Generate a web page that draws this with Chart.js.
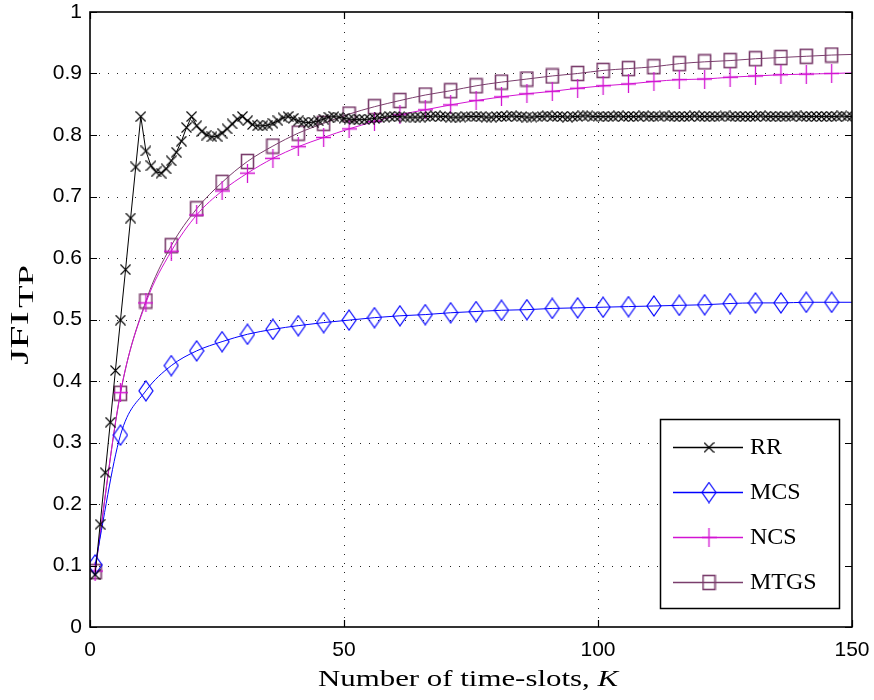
<!DOCTYPE html>
<html><head><meta charset="utf-8">
<script src="https://cdn.jsdelivr.net/npm/chart.js@4.4.0/dist/chart.umd.min.js"></script>
<style>html,body{margin:0;padding:0;background:#fff;}canvas{display:block;}</style>
</head><body>
<canvas id="c" width="874" height="700"></canvas>
<script>
// ---------------- data ----------------
const seriesNames = ['RR', 'MCS', 'NCS', 'MTGS'];
const rrK = Array.from({length: 150}, (_, i) => i + 1);   // time-slot categories 1..150
const rrValues = [
  0.085,0.167,0.251,0.333,0.417,0.499,0.581,0.665,0.748,0.830,
  0.774,0.750,0.740,0.738,0.745,0.758,0.772,0.790,0.812,0.830,
  0.815,0.806,0.800,0.797,0.798,0.803,0.810,0.818,0.826,0.830,
  0.823,0.817,0.815,0.815,0.816,0.819,0.823,0.828,0.830,0.827,
  0.823,0.821,0.820,0.821,0.823,0.826,0.829,0.830,0.829,0.827,
  0.826,0.825,0.825,0.825,0.826,0.827,0.828,0.829,0.830,0.830,
  0.830,0.829,0.829,0.829,0.829,0.830,0.830,0.831,0.830,0.830,
  0.829,0.829,0.829,0.830,0.830,0.830,0.830,0.829,0.829,0.830,
  0.830,0.830,0.831,0.830,0.830,0.829,0.829,0.830,0.830,0.831,
  0.830,0.830,0.830,0.829,0.830,0.830,0.831,0.831,0.830,0.830,
  0.830,0.830,0.830,0.831,0.830,0.830,0.830,0.830,0.831,0.830,
  0.830,0.830,0.831,0.830,0.830,0.830,0.830,0.830,0.831,0.830,
  0.830,0.830,0.830,0.830,0.831,0.830,0.830,0.830,0.830,0.830,
  0.830,0.831,0.830,0.830,0.830,0.830,0.830,0.830,0.831,0.830,
  0.830,0.830,0.830,0.830,0.830,0.830,0.830,0.831,0.830,0.830
];
const markK = [1,6,11,16,21,26,31,36,41,46,51,56,61,66,71,76,81,86,91,96,101,106,111,116,121,126,131,136,141,146,150];
const mcsValues = [0.101,0.312,0.384,0.425,0.449,0.464,0.476,0.484,0.490,0.495,0.499,0.503,0.506,0.508,0.511,0.513,0.515,0.516,0.518,0.519,0.520,0.521,0.522,0.523,0.524,0.526,0.527,0.527,0.528,0.528,0.528];
const ncsValues = [0.091,0.381,0.527,0.611,0.670,0.709,0.738,0.762,0.781,0.796,0.810,0.822,0.833,0.841,0.849,0.856,0.862,0.867,0.871,0.876,0.880,0.883,0.887,0.890,0.891,0.894,0.896,0.898,0.899,0.900,0.901];
const mtgsValues = [0.090,0.380,0.530,0.620,0.680,0.723,0.757,0.782,0.803,0.819,0.834,0.846,0.856,0.865,0.872,0.880,0.886,0.891,0.896,0.900,0.905,0.908,0.911,0.916,0.919,0.921,0.924,0.926,0.928,0.930,0.931];
const xTickValues = [0, 50, 100, 150];
const xTickLabels = ['0', '50', '100', '150'];
const yTickValues = [0,0.1,0.2,0.3,0.4,0.5,0.6,0.7,0.8,0.9,1];
const yTickLabels = ['0','0.1','0.2','0.3','0.4','0.5','0.6','0.7','0.8','0.9','1'];
const xTitle = 'Number of time-slots, ';
const xTitleItalic = 'K';
const yTitleMain = 'JFI';
const yTitleSub = 'TP';

// ---------------- styles ----------------
const COL = {RR:'#000000', MCS:'#0000ff', NCS:'#d214d2', MTGS:'#7a3d6c'};
function mk(w, h, fn) { const c = document.createElement('canvas'); c.width = w; c.height = h; const g = c.getContext('2d'); fn(g, w, h); return c; }
const mX = mk(11, 11, g => { g.strokeStyle = COL.RR; g.lineWidth = 1.1; g.beginPath(); g.moveTo(0.5,0.5); g.lineTo(10.5,10.5); g.moveTo(10.5,0.5); g.lineTo(0.5,10.5); g.stroke(); });
const mD = mk(16, 22, g => { g.strokeStyle = COL.MCS; g.lineWidth = 1.2; g.beginPath(); g.moveTo(8,1); g.lineTo(15,11); g.lineTo(8,21); g.lineTo(1,11); g.closePath(); g.stroke(); });
const mP = mk(15, 19, g => { g.strokeStyle = COL.NCS; g.lineWidth = 1.3; g.beginPath(); g.moveTo(7.5,0); g.lineTo(7.5,19); g.moveTo(0,9.5); g.lineTo(15,9.5); g.stroke(); });
const mS = mk(15, 17, g => { g.strokeStyle = COL.MTGS; g.lineWidth = 1.6; g.strokeRect(1.5,1.5,12,14); });
const MARK = {RR:mX, MCS:mD, NCS:mP, MTGS:mS};

const pts = (ks, vs) => ks.map((k, i) => ({x: k, y: vs[i]}));
const lastHidden = ctx => (ctx.dataIndex === markK.length - 1 ? 0 : 3);

const datasets = [
  {label: seriesNames[0], data: pts(rrK, rrValues), borderColor: COL.RR, borderWidth: 1, pointStyle: mX, pointRadius: 3, tension: 0},
  {label: seriesNames[1], data: pts(markK, mcsValues), borderColor: COL.MCS, borderWidth: 1, pointStyle: mD, pointRadius: lastHidden, cubicInterpolationMode: 'monotone'},
  {label: seriesNames[2], data: pts(markK, ncsValues), borderColor: COL.NCS, borderWidth: 1, pointStyle: mP, pointRadius: lastHidden, cubicInterpolationMode: 'monotone'},
  {label: seriesNames[3], data: pts(markK, mtgsValues), borderColor: COL.MTGS, borderWidth: 1, pointStyle: mS, pointRadius: lastHidden, cubicInterpolationMode: 'monotone'}
];
datasets.forEach(d => { d.fill = false; d.backgroundColor = 'transparent'; d.pointBorderWidth = 0; });

// ---------------- decoration plugin ----------------
const matlabPlugin = {
  id: 'matlab',
  beforeDatasetsDraw(chart) {
    const {ctx, chartArea: a, scales: {x, y}} = chart;
    ctx.save();
    ctx.strokeStyle = '#222'; ctx.lineWidth = 1; ctx.setLineDash([1, 8]);
    xTickValues.forEach(v => { const px = Math.round(x.getPixelForValue(v)) + 0.5; if (px < a.left + 2 || px > a.right - 2) return;
      ctx.beginPath(); ctx.moveTo(px, a.bottom); ctx.lineTo(px, a.top); ctx.stroke(); });
    yTickValues.forEach(v => { const py = Math.round(y.getPixelForValue(v)) + 0.5; if (py < a.top + 2 || py > a.bottom - 2) return;
      ctx.beginPath(); ctx.moveTo(a.left, py); ctx.lineTo(a.right, py); ctx.stroke(); });
    ctx.restore();
  },
  afterDatasetsDraw(chart) {
    const {ctx, chartArea: a, scales: {x, y}} = chart;
    ctx.save();
    ctx.setLineDash([]);
    ctx.strokeStyle = '#000'; ctx.lineWidth = 1.6;
    ctx.strokeRect(a.left, a.top, a.right - a.left, a.bottom - a.top);
    ctx.lineWidth = 1.2;
    const tl = 7;
    xTickValues.forEach(v => { const px = Math.round(x.getPixelForValue(v)) + 0.5;
      ctx.beginPath(); ctx.moveTo(px, a.bottom); ctx.lineTo(px, a.bottom - tl); ctx.moveTo(px, a.top); ctx.lineTo(px, a.top + tl); ctx.stroke(); });
    yTickValues.forEach(v => { const py = Math.round(y.getPixelForValue(v)) + 0.5;
      ctx.beginPath(); ctx.moveTo(a.left, py); ctx.lineTo(a.left + tl, py); ctx.moveTo(a.right, py); ctx.lineTo(a.right - tl, py); ctx.stroke(); });

    // legend
    const L = {x0: 660, y0: 419, x1: 839, y1: 608};
    ctx.fillStyle = '#fff';
    ctx.fillRect(L.x0, L.y0, L.x1 - L.x0, L.y1 - L.y0);
    ctx.strokeStyle = '#000'; ctx.lineWidth = 1.5;
    ctx.strokeRect(L.x0 + 0.5, L.y0 + 0.5, L.x1 - L.x0, L.y1 - L.y0);
    ctx.font = '24px "Liberation Serif", "Times New Roman", serif';
    ctx.textBaseline = 'middle'; ctx.textAlign = 'left';
    chart.data.datasets.forEach((d, i) => {
      const cy = 447 + i * 45;
      ctx.strokeStyle = d.borderColor; ctx.lineWidth = 1.3;
      ctx.beginPath(); ctx.moveTo(673, cy + 0.5); ctx.lineTo(743, cy + 0.5); ctx.stroke();
      const m = MARK[d.label];
      ctx.drawImage(m, 709 - m.width / 2, cy + 0.5 - m.height / 2);
      ctx.fillStyle = '#000';
      ctx.fillText(d.label, 750, cy + 1);
    });

    // x-axis title
    ctx.fillStyle = '#000';
    ctx.textBaseline = 'alphabetic';
    const fN = '24px "Liberation Serif", "Times New Roman", serif';
    const fI = 'italic 24px "Liberation Serif", "Times New Roman", serif';
    ctx.font = fN; const w1 = ctx.measureText(xTitle).width;
    ctx.font = fI; const w2 = ctx.measureText(xTitleItalic).width;
    const targetW = 300, sx = targetW / (w1 + w2);
    ctx.save();
    ctx.translate(318, 686);
    ctx.scale(sx, 1);
    ctx.font = fN; ctx.fillText(xTitle, 0, 0);
    ctx.font = fI; ctx.fillText(xTitleItalic, w1, 0);
    ctx.restore();

    // y-axis title (rotated, with subscript)
    const fM = '25px "Liberation Serif", "Times New Roman", serif';
    const fS = '22px "Liberation Serif", "Times New Roman", serif';
    ctx.font = fM; const m1 = ctx.measureText(yTitleMain).width;
    ctx.font = fS; const m2 = ctx.measureText(yTitleSub).width;
    const tgt = 100, sy = tgt / (m1 + m2 + 2);
    ctx.save();
    ctx.translate(28, 315);
    ctx.rotate(-Math.PI / 2);
    ctx.scale(sy, 1);
    ctx.translate(-(m1 + m2 + 2) / 2, 0);
    ctx.font = fM; ctx.fillText(yTitleMain, 0, 0);
    ctx.font = fS; ctx.fillText(yTitleSub, m1 + 2, 5);
    ctx.restore();
    ctx.restore();
  }
};

new Chart(document.getElementById('c'), {
  type: 'line',
  data: {datasets},
  plugins: [matlabPlugin],
  options: {
    responsive: false, animation: false, events: [],
    layout: {padding: {left: 0, right: 22, top: 12, bottom: 0}},
    plugins: {legend: {display: false}, tooltip: {enabled: false}},
    scales: {
      x: {
        type: 'linear', min: 0, max: 150,
        grid: {display: false, drawTicks: false}, border: {display: false},
        afterBuildTicks: s => { s.ticks = xTickValues.map(v => ({value: v})); },
        afterFit: s => { s.height = 73; s.paddingLeft = 0; s.paddingRight = 0; },
        ticks: {autoSkip: false, maxRotation: 0, padding: 11, color: '#000',
          font: {family: '"Liberation Sans", Arial, sans-serif', size: 21},
          callback: v => xTickLabels[xTickValues.indexOf(v)]}
      },
      y: {
        type: 'linear', min: 0, max: 1,
        grid: {display: false, drawTicks: false}, border: {display: false},
        afterBuildTicks: s => { s.ticks = yTickValues.map(v => ({value: v})); },
        afterFit: s => { s.width = 90; s.paddingTop = 0; s.paddingBottom = 0; },
        ticks: {autoSkip: false, padding: 8, color: '#000',
          font: {family: '"Liberation Sans", Arial, sans-serif', size: 21},
          callback: v => yTickLabels[yTickValues.findIndex(t => Math.abs(t - v) < 1e-9)]}
      }
    }
  }
});
</script>
</body></html>
